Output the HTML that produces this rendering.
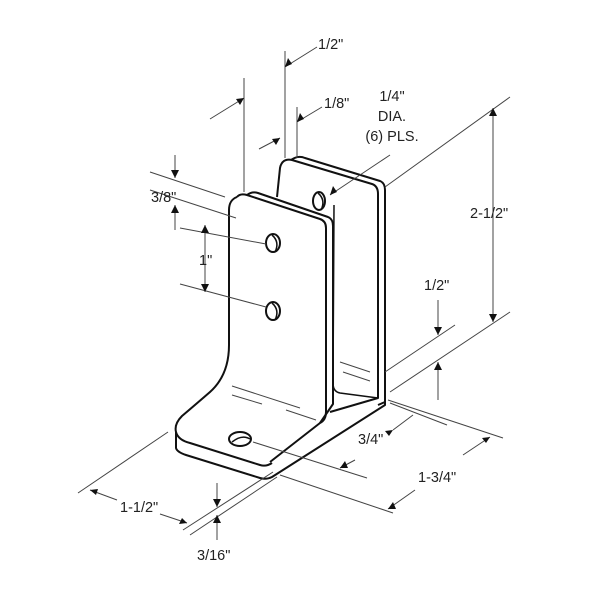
<!DOCTYPE html>
<html><head><style>body{margin:0;background:#fff}svg{display:block}text{font-family:"Liberation Sans",sans-serif;font-size:14.5px;fill:#222}</style></head><body>
<svg width="600" height="600" viewBox="0 0 600 600">
<g fill="none" stroke="#111" stroke-width="2" stroke-linejoin="round">
<path d="M277,197 L280,168 Q282,158 292,160 L372,184 Q378,186 378,194 L378,398 L330,412"/>
<path d="M291,160 Q298,155 305,158 L380,181 Q385,183 385,190 L385,402 L378,405"/>
<path d="M334,205 L333,385 Q334,392 340,393 L378,398" stroke-width="1.5"/>
<path d="M237,197 Q240,193 247,195 L320,219 Q326,221 326,228 L326,412 Q326,420 320,423 L270,462"/>
<path d="M237,197 Q229,200 229,210 L229,345 Q229,375 210,392 Q195,405 182,416 Q174,424 176,432 Q178,440 190,443 L260,465 Q266,467 272,463"/>
<path d="M247,195 Q252,191 258,193 L328,217 Q333,219 333,226 L333,404 L320,423"/>
<path d="M176,432 L176,448 Q177,452 186,455 L260,478 Q266,480 272,477 L385,405 L385,398"/>
<ellipse cx="273" cy="243" rx="7" ry="9"/><path d="M272,235 Q280,242 275,252" stroke-width="1.5"/>
<ellipse cx="273" cy="311" rx="7" ry="9"/><path d="M272,303 Q280,310 275,320" stroke-width="1.5"/>
<ellipse cx="319" cy="201" rx="6" ry="9"/><path d="M318,193 Q326,200 321,210" stroke-width="1.5"/>
<ellipse cx="240" cy="439" rx="11" ry="7"/><path d="M232,442 Q242,434 250,439" stroke-width="1.5"/>
</g>
<g stroke="#444" stroke-width="1" fill="none">
<path d="M232,386 L300,408 M232,395 L262,404 M286,410 L316,420 M340,362 L370,372 M343,372 L370,381"/>
<path d="M244,78 L244,192 M285,51 L285,158 M297,107 L297,158"/>
<path d="M150,172 L225,197 M150,190 L236,218 M180,228 L266,244 M180,284 L266,307"/>
<path d="M385,187 L510,97 M385,372 L455,325 M390,392 L510,312"/>
<path d="M388,400 L503,438 M390,403 L447,425 M253,442 L367,478 M280,475 L393,513"/>
<path d="M78,493 L168,432 M183,530 L273,472 M190,535 L277,477"/>
<path d="M175,155 L175,178 M175,205 L175,230 M205,225 L205,292"/>
<path d="M317,47 L285,67 M322,107 L297,122 M259,149 L280,138 M210,119 L244,98 M390,155 L330,195"/>
<path d="M493,108 L493,322 M438,300 L438,335 M438,362 L438,400"/>
<path d="M340,468 L355,460 M393,430 L413,415 M388,509 L415,490 M463,455 L490,437"/>
<path d="M90,490 L117,500 M160,514 L187,523 M217,483 L217,507 M217,515 L217,540"/>
</g>
<g fill="#111">
<path d="M175,178 l-4,-8 h8z M175,205 l-4,8 h8z M205,225 l-4,8 h8z M205,292 l-4,-8 h8z M493,108 l-4,8 h8z M493,322 l-4,-8 h8z M438,335 l-4,-8 h8z M438,362 l-4,8 h8z M217,507 l-4,-8 h8z M217,515 l-4,8 h8z"/>
<path d="M285,67 l3,-9 l4,6z M297,122 l3,-9 l4,6z M280,138 l-8,1 l4,6z M244,98 l-8,1 l4,6z M330,195 l3,-9 l4,6z"/>
<path d="M340,468 l5,-7 l3,7z M393,430 l-8,1 l4,5z M388,509 l5,-7 l3,7z M490,437 l-8,1 l4,5z M90,490 l8,-1 l-2,6z M187,523 l-8,1 l3,-6z"/>
</g>
<text x="318" y="49">1/2"</text>
<text x="324" y="108">1/8"</text>
<text x="392" y="101" text-anchor="middle">1/4"</text>
<text x="392" y="121" text-anchor="middle">DIA.</text>
<text x="392" y="141" text-anchor="middle">(6) PLS.</text>
<text x="151" y="202">3/8"</text>
<text x="199" y="265">1"</text>
<text x="470" y="218">2-1/2"</text>
<text x="424" y="290">1/2"</text>
<text x="358" y="444">3/4"</text>
<text x="418" y="482">1-3/4"</text>
<text x="120" y="512">1-1/2"</text>
<text x="197" y="560">3/16"</text>
</svg>
</body></html>
